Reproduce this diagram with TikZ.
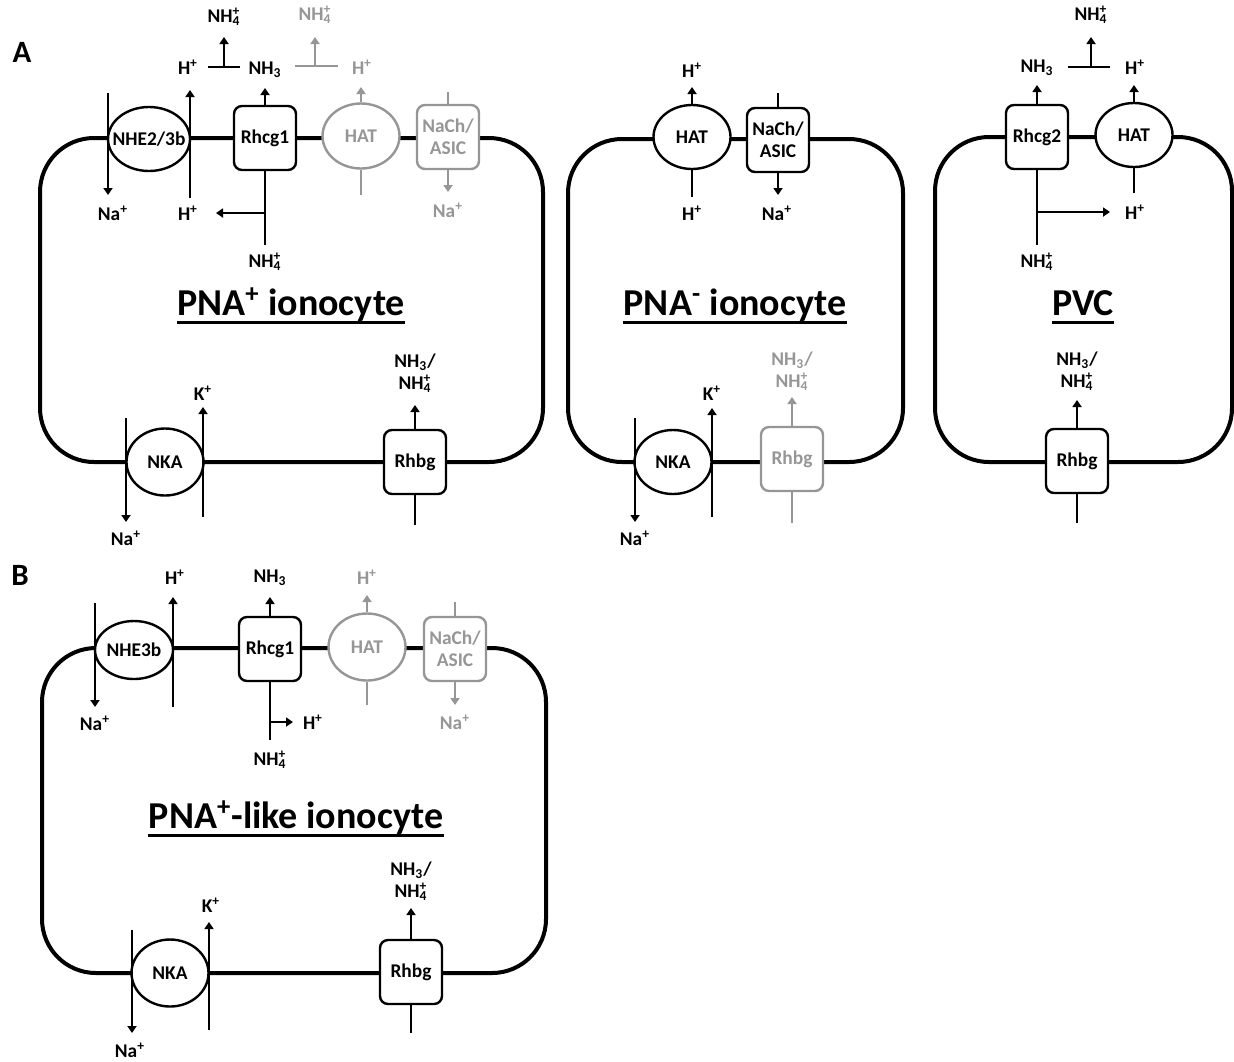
\documentclass[tikz,border=0pt]{standalone}
\usepackage{fontspec}
\setmainfont{Carlito}
\usetikzlibrary{shapes.geometric, arrows.meta}
\definecolor{FadeGray}{RGB}{150,150,150}
\newcommand{\lblfont}{\fontsize{9.7}{11}\selectfont\bfseries}
\newcommand{\titlefont}{\fontsize{19}{22}\selectfont\bfseries}
\newcommand{\panelfont}{\fontsize{15.5}{18}\selectfont\bfseries}
\newcommand{\NHiii}{NH\textsubscript{3}}
\newcommand{\NHiv}{NH\rlap{\textsubscript{4}}\textsuperscript{+}}
\newcommand{\Hplus}{H\textsuperscript{+}}
\newcommand{\Naplus}{Na\textsuperscript{+}}
\newcommand{\Kplus}{K\textsuperscript{+}}

\begin{document}
\begin{tikzpicture}[x=0.5pt, y=-0.5pt,
    membrane/.style={line width=2pt, rounded corners=27pt},
    carrier/.style={ellipse, draw, line width=1.2pt, fill=white, minimum width=38.5pt,
                    minimum height=32pt, inner sep=0pt, font=\lblfont},
    channel/.style={rectangle, rounded corners=4pt, draw, line width=1.2pt, fill=white,
                    minimum width=31pt, minimum height=32pt, inner sep=0pt, align=center, font=\lblfont},
    ion/.style={inner sep=0pt, font=\lblfont, align=center},
    flux/.style={line width=1pt, -{Triangle[length=3.5pt, width=4.5pt]}},
    tether/.style={line width=1pt},
    faded/.style={draw=FadeGray, text=FadeGray},
    pale/.style={text=FadeGray},
    cellname/.style={font=\titlefont, inner sep=0pt, text depth=3.5pt, anchor=base},
    underbar/.style={line width=1.5pt},
    panel/.style={font=\panelfont}
  ]
  \useasboundingbox (0,0) rectangle (1234,1061);

  \node[panel] (pa) at (22,52) {A};
  \node[panel] (pb) at (20,575) {B};

  % PNA+ ionocyte
  \draw[membrane] (40,138) rectangle (543,462);
  \node[carrier, minimum width=41pt] (nhe1) at (149,139) {\makebox[0pt]{NHE2/3b}};
  \node[channel] (rh1) at (265,138) {Rhcg1};
  \node[carrier, faded, minimum height=32.5pt] (hat1) at (361,136) {HAT};
  \node[channel, faded] (nach1) at (448,137) {NaCh/\\ASIC};
  \node[carrier, minimum height=33.5pt] (nka1) at (165,462) {NKA};
  \node[channel] (rhbg1) at (415,462) {Rhbg};

  \node[ion] (h1a) at (188,67) {\Hplus};
  \node[ion] (nh3a) at (265,70) {\NHiii};
  \node[ion] (nh4a) at (224,17) {\NHiv};
  \node[ion, pale] (nh4b) at (315,15) {\NHiv};
  \node[ion, pale] (h1b) at (362,67) {\Hplus};
  \node[ion] (na1a) at (113,213) {\Naplus};
  \node[ion] (h1c) at (188,213) {\Hplus};
  \node[ion] (nh4c) at (265,262) {\NHiv};
  \node[ion, pale] (na1b) at (448,210) {\Naplus};
  \node[ion] (k1) at (203,393) {\Kplus};
  \node[ion] (na1c) at (126,538) {\Naplus};
  \node[ion] (amm1) at (415,373) {\NHiii/\\\NHiv};

  \coordinate (nhe1a) at (108,93);  \coordinate (nhe1b) at (108,195);
  \coordinate (nhe1c) at (190,198); \coordinate (nhe1d) at (190,90);
  \coordinate (rh1a) at (265,88);   \coordinate (rh1b) at (265,213);
  \coordinate (rh1c) at (265,245);  \coordinate (rh1d) at (216,213);
  \coordinate (bar1l) at (208,67);  \coordinate (bar1r) at (240,67);
  \coordinate (bar1m) at (224,67);  \coordinate (bar1t) at (224,37);
  \coordinate (bar2l) at (295,66);  \coordinate (bar2r) at (338,66);
  \coordinate (bar2m) at (315,66);  \coordinate (bar2t) at (315,37);
  \coordinate (hat1a) at (361,87);  \coordinate (hat1b) at (361,195);
  \coordinate (nach1a) at (448,92); \coordinate (nach1b) at (448,192);
  \coordinate (nka1a) at (126,418); \coordinate (nka1b) at (126,522);
  \coordinate (nka1c) at (203,517); \coordinate (nka1d) at (203,407);
  \coordinate (rhbg1a) at (415,405); \coordinate (rhbg1b) at (415,525);

  \draw[flux] (nhe1a) -- (nhe1b);
  \draw[flux] (nhe1c) -- (nhe1d);
  \draw[flux] (rh1.north) -- (rh1a);
  \draw[tether] (rh1.south) -- (rh1c);
  \draw[flux] (rh1b) -- (rh1d);
  \draw[tether] (bar1l) -- (bar1r);
  \draw[flux] (bar1m) -- (bar1t);
  \draw[tether, faded] (bar2l) -- (bar2r);
  \draw[flux, faded] (bar2m) -- (bar2t);
  \draw[flux, faded] (hat1.north) -- (hat1a);
  \draw[tether, faded] (hat1b) -- (hat1.south);
  \draw[tether, faded] (nach1a) -- (nach1.north);
  \draw[flux, faded] (nach1.south) -- (nach1b);
  \draw[flux] (nka1a) -- (nka1b);
  \draw[flux] (nka1c) -- (nka1d);
  \draw[flux] (rhbg1.north) -- (rhbg1a);
  \draw[tether] (rhbg1b) -- (rhbg1.south);

  \node[cellname] (t1) at (291,315) {PNA\textsuperscript{+} ionocyte};
  \draw[underbar] (t1.south west) -- (t1.south east);

  % PNA- ionocyte
  \draw[membrane] (568,139) rectangle (903,462);
  \node[carrier] (hat2) at (692,137) {HAT};
  \node[channel] (nach2) at (778,140) {NaCh/\\ASIC};
  \node[carrier] (nka2) at (673,462) {NKA};
  \node[channel, faded] (rhbg2) at (792,459) {Rhbg};

  \node[ion] (h2a) at (692,70) {\Hplus};
  \node[ion] (h2b) at (692,213) {\Hplus};
  \node[ion] (na2a) at (777,213) {\Naplus};
  \node[ion] (k2) at (712,393) {\Kplus};
  \node[ion] (na2b) at (635,538) {\Naplus};
  \node[ion, pale] (amm2) at (792,371) {\NHiii/\\\NHiv};

  \coordinate (hat2a) at (692,87);  \coordinate (hat2b) at (692,197);
  \coordinate (nach2a) at (778,93); \coordinate (nach2b) at (778,195);
  \coordinate (nka2a) at (635,418); \coordinate (nka2b) at (635,522);
  \coordinate (nka2c) at (712,517); \coordinate (nka2d) at (712,408);
  \coordinate (rhbg2a) at (792,397); \coordinate (rhbg2b) at (792,523);

  \draw[flux] (hat2.north) -- (hat2a);
  \draw[tether] (hat2b) -- (hat2.south);
  \draw[tether] (nach2a) -- (nach2.north);
  \draw[flux] (nach2.south) -- (nach2b);
  \draw[flux] (nka2a) -- (nka2b);
  \draw[flux] (nka2c) -- (nka2d);
  \draw[flux, faded] (rhbg2.north) -- (rhbg2a);
  \draw[tether, faded] (rhbg2b) -- (rhbg2.south);

  \node[cellname] (t2) at (735,315) {PNA\textsuperscript{-} ionocyte};
  \draw[underbar] (t2.south west) -- (t2.south east);

  % PVC
  \draw[membrane] (935,137) rectangle (1232,462);
  \node[channel] (rh3) at (1037,137) {Rhcg2};
  \node[carrier] (hat3) at (1134,135) {HAT};
  \node[channel] (rhbg3) at (1077,461) {Rhbg};

  \node[ion] (nh3c) at (1037,68) {\NHiii};
  \node[ion] (nh4d) at (1091,15) {\NHiv};
  \node[ion] (h3a) at (1135,67) {\Hplus};
  \node[ion] (h3b) at (1135,212) {\Hplus};
  \node[ion] (nh4e) at (1037,262) {\NHiv};
  \node[ion] (amm3) at (1077,371) {\NHiii/\\\NHiv};

  \coordinate (rh3a) at (1037,85);  \coordinate (rh3b) at (1037,212);
  \coordinate (rh3c) at (1037,245); \coordinate (rh3d) at (1110,212);
  \coordinate (bar3l) at (1068,67); \coordinate (bar3r) at (1110,67);
  \coordinate (bar3m) at (1091,67); \coordinate (bar3t) at (1091,37);
  \coordinate (hat3a) at (1134,85); \coordinate (hat3b) at (1134,193);
  \coordinate (rhbg3a) at (1077,400); \coordinate (rhbg3b) at (1077,523);

  \draw[flux] (rh3.north) -- (rh3a);
  \draw[tether] (rh3.south) -- (rh3c);
  \draw[flux] (rh3b) -- (rh3d);
  \draw[tether] (bar3l) -- (bar3r);
  \draw[flux] (bar3m) -- (bar3t);
  \draw[flux] (hat3.north) -- (hat3a);
  \draw[tether] (hat3b) -- (hat3.south);
  \draw[flux] (rhbg3.north) -- (rhbg3a);
  \draw[tether] (rhbg3b) -- (rhbg3.south);

  \node[cellname] (t3) at (1083,315) {PVC};
  \draw[underbar] (t3.south west) -- (t3.south east);

  % PNA+-like ionocyte
  \draw[membrane] (42,648) rectangle (546,973);
  \node[carrier, minimum width=39pt, minimum height=29pt] (nhe4) at (134,650) {\makebox[0pt]{NHE3b}};
  \node[channel] (rh4) at (270,649) {Rhcg1};
  \node[carrier, faded, minimum height=33.5pt] (hat4) at (367,647) {HAT};
  \node[channel, faded] (nach4) at (455,649) {NaCh/\\ASIC};
  \node[carrier, minimum height=33.5pt] (nka4) at (170,973) {NKA};
  \node[channel] (rhbg4) at (411,972) {Rhbg};

  \node[ion] (na4a) at (95,723) {\Naplus};
  \node[ion] (h4a) at (175,577) {\Hplus};
  \node[ion] (nh3d) at (270,578) {\NHiii};
  \node[ion] (h4b) at (313,722) {\Hplus};
  \node[ion] (nh4f) at (270,760) {\NHiv};
  \node[ion, pale] (h4c) at (367,577) {\Hplus};
  \node[ion, pale] (na4b) at (455,722) {\Naplus};
  \node[ion] (k4) at (211,905) {\Kplus};
  \node[ion] (na4c) at (130,1050) {\Naplus};
  \node[ion] (amm4) at (411,881) {\NHiii/\\\NHiv};

  \coordinate (nhe4a) at (95,603);  \coordinate (nhe4b) at (95,707);
  \coordinate (nhe4c) at (173,707); \coordinate (nhe4d) at (173,597);
  \coordinate (rh4a) at (270,597);  \coordinate (rh4b) at (270,722);
  \coordinate (rh4c) at (270,740);  \coordinate (rh4d) at (293,722);
  \coordinate (hat4a) at (367,595); \coordinate (hat4b) at (367,705);
  \coordinate (nach4a) at (455,602); \coordinate (nach4b) at (455,705);
  \coordinate (nka4a) at (132,930); \coordinate (nka4b) at (132,1033);
  \coordinate (nka4c) at (209,1030); \coordinate (nka4d) at (209,922);
  \coordinate (rhbg4a) at (411,908); \coordinate (rhbg4b) at (411,1033);

  \draw[flux] (nhe4a) -- (nhe4b);
  \draw[flux] (nhe4c) -- (nhe4d);
  \draw[flux] (rh4.north) -- (rh4a);
  \draw[tether] (rh4.south) -- (rh4c);
  \draw[flux] (rh4b) -- (rh4d);
  \draw[flux, faded] (hat4.north) -- (hat4a);
  \draw[tether, faded] (hat4b) -- (hat4.south);
  \draw[tether, faded] (nach4a) -- (nach4.north);
  \draw[flux, faded] (nach4.south) -- (nach4b);
  \draw[flux] (nka4a) -- (nka4b);
  \draw[flux] (nka4c) -- (nka4d);
  \draw[flux] (rhbg4.north) -- (rhbg4a);
  \draw[tether] (rhbg4b) -- (rhbg4.south);

  \node[cellname] (t4) at (296,828) {PNA\textsuperscript{+}-like ionocyte};
  \draw[underbar] (t4.south west) -- (t4.south east);
\end{tikzpicture}
\end{document}
